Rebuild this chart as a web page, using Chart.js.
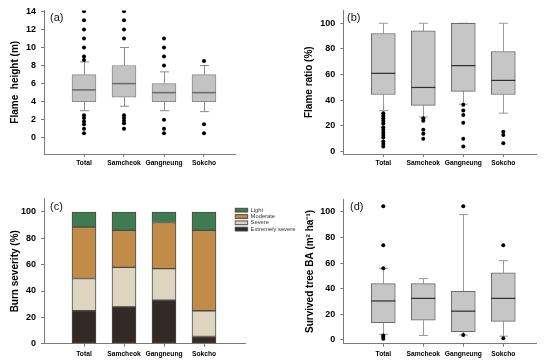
<!DOCTYPE html>
<html><head><meta charset="utf-8">
<script src="https://cdn.jsdelivr.net/npm/chart.js@4/dist/chart.umd.min.js"></script>
<style>
html,body{margin:0;padding:0;background:#fff;}
body{width:550px;height:362px;position:relative;overflow:hidden;font-family:"Liberation Sans",Arial,sans-serif;}
canvas{position:absolute;}
.lab{position:absolute;font-size:11px;line-height:12px;color:#111;white-space:nowrap;}
</style></head>
<body>
<canvas id="ca" width="275" height="181" style="left:0;top:0"></canvas>
<canvas id="cb" width="275" height="181" style="left:275px;top:0"></canvas>
<canvas id="cd" width="275" height="181" style="left:275px;top:181px"></canvas>
<canvas id="cc" width="300" height="181" style="left:0;top:181px"></canvas>
<div class="lab" style="left:50px;top:10.7px">(a)</div>
<div class="lab" style="left:347px;top:10.7px">(b)</div>
<div class="lab" style="left:50px;top:200px">(c)</div>
<div class="lab" style="left:350px;top:200px">(d)</div>
<script>
const categories = ['Total', 'Samcheok', 'Gangneung', 'Sokcho'];

// (a) Flame height (m)
const heightTicks = [0, 2, 4, 6, 8, 10, 12, 14];
const heightQ1 = [4, 4.5, 4, 4];
const heightMedian = [5.3, 6, 5, 5];
const heightQ3 = [7, 8, 6, 7];
const heightLow = [3, 3.5, 3, 2.9];
const heightHigh = [8.4, 10, 7.3, 8];
const heightOutliers = [
  [14, 13, 12, 11, 10, 9, 8.6, 2.5, 2.2, 1.8, 1.5, 1, 0.5],
  [14, 13, 12, 11, 2.5, 2.2, 1.9, 1.6, 1],
  [11, 10, 9, 8, 2, 1, 0.5],
  [8.5, 1.5, 0.5]
];

// (b) Flame ratio (%)
const ratioTicks = [0, 20, 40, 60, 80, 100];
const ratioQ1 = [44.5, 36, 47, 44.5];
const ratioMedian = [61, 50, 67, 55.5];
const ratioQ3 = [92, 94, 100, 78];
const ratioLow = [32, 27, 37, 30];
const ratioHigh = [100, 100, 100, 100];
const ratioOutliers = [
  [30, 28, 26, 24, 22, 19, 17, 15, 13, 11, 8, 6, 4],
  [26, 24, 17, 14, 10],
  [36.5, 32, 28.5, 22.5, 10, 4],
  [15.5, 13, 6.5]
];

// (c) Burn severity (%)
const severityTicks = [0, 20, 40, 60, 80, 100];
const severityExtreme = [25, 28, 33, 5.5];
const severitySevere = [24.5, 30, 24, 19.5];
const severityModerate = [39, 28, 35, 61];
const severityLight = [11.5, 14, 8, 14];

// (d) Survived tree BA (m2 ha-1)
const baTicks = [0, 20, 40, 60, 80, 100];
const baQ1 = [13.5, 15.5, 6.5, 14.5];
const baMedian = [30.5, 32.5, 22.5, 32.5];
const baQ3 = [44, 44, 38, 52.5];
const baLow = [4.4, 3.5, 3.9, 3];
const baHigh = [56, 48, 98, 62];
const baOutliers = [
  [104.5, 74, 56, 3.5, 2.3, 1],
  [],
  [104.5, 3.9],
  [74, 1.3]
];

Chart.defaults.font.family = '"Liberation Sans", Arial, sans-serif';
Chart.defaults.animation = false;
Chart.defaults.events = [];

const AXIS = '#7a7a7a';

function axes(o) {
  return {
    x: {
      type: 'linear', min: -1, max: o.xMax, stacked: !!o.stacked, offset: false,
      afterBuildTicks: s => { s.ticks = categories.map((c, i) => ({ value: i })); },
      afterFit: s => { s.height = o.xH; },
      ticks: { callback: v => categories[v], font: { size: 6.7, weight: 'bold' }, color: '#000', padding: o.xPad, maxRotation: 0, autoSkip: false },
      grid: { display: true, offset: false, drawOnChartArea: false, drawTicks: true, tickLength: 3, color: AXIS },
      border: { display: true, color: AXIS, width: 1 }
    },
    y: {
      type: 'linear', min: o.yMin, max: o.yMax, stacked: !!o.stacked, offset: false,
      afterBuildTicks: s => { s.ticks = o.yTicks.map(v => ({ value: v })); },
      afterFit: s => { s.width = o.yW; },
      ticks: { font: { size: 9, weight: 'bold' }, color: '#000', padding: 5 },
      grid: { display: true, drawOnChartArea: false, drawTicks: true, tickLength: 3, color: AXIS },
      border: { display: true, color: AXIS, width: 1 },
      title: { display: true, text: o.title, font: { size: 10, weight: 'bold' }, color: '#000', padding: { top: o.titlePad, bottom: 0 } }
    }
  };
}

function boxChart(id, o) {
  const plugin = {
    id: 'boxLines',
    beforeDatasetsDraw(chart) {
      const xs = chart.scales.x, ys = chart.scales.y, ctx = chart.ctx;
      ctx.save();
      ctx.strokeStyle = o.whisker; ctx.lineWidth = 1;
      o.q1.forEach((q1, i) => {
        const px = Math.round(xs.getPixelForValue(i)) + 0.5;
        const h = o.cap / 2;
        const yl = ys.getPixelForValue(o.low[i]), y1 = ys.getPixelForValue(q1);
        const y3 = ys.getPixelForValue(o.q3[i]), yh = ys.getPixelForValue(o.high[i]);
        ctx.beginPath();
        ctx.moveTo(px, y1); ctx.lineTo(px, yl);
        ctx.moveTo(px - h, yl); ctx.lineTo(px + h, yl);
        ctx.moveTo(px, y3); ctx.lineTo(px, yh);
        ctx.moveTo(px - h, yh); ctx.lineTo(px + h, yh);
        ctx.stroke();
      });
      ctx.restore();
    },
    afterDatasetDraw(chart, args) {
      if (args.meta.type !== 'bar') return;
      const xs = chart.scales.x, ys = chart.scales.y, ctx = chart.ctx;
      ctx.save();
      ctx.strokeStyle = o.medianColor; ctx.lineWidth = o.medianWidth;
      o.median.forEach((m, i) => {
        const px = xs.getPixelForValue(i), py = ys.getPixelForValue(m);
        ctx.beginPath();
        ctx.moveTo(px - 12, py); ctx.lineTo(px + 12, py);
        ctx.stroke();
      });
      ctx.restore();
    }
  };
  return new Chart(document.getElementById(id), {
    type: 'bar',
    data: {
      datasets: [
        {
          type: 'scatter', order: 0,
          data: o.outliers.flatMap((arr, i) => arr.map(v => ({ x: i, y: v }))),
          pointRadius: 2, pointBackgroundColor: '#000', pointBorderWidth: 0
        },
        {
          type: 'bar', order: 1,
          data: categories.map((c, i) => ({ x: i, y: [o.q1[i], o.q3[i]] })),
          backgroundColor: o.fill, borderColor: o.border, borderWidth: 1,
          borderSkipped: false, barThickness: 24
        }
      ]
    },
    options: {
      responsive: false,
      layout: { padding: { left: 0, right: o.padR, top: o.padT, bottom: 0 } },
      plugins: { legend: { display: false }, tooltip: { enabled: false } },
      scales: axes(o)
    },
    plugins: [plugin]
  });
}

boxChart('ca', {
  q1: heightQ1, median: heightMedian, q3: heightQ3, low: heightLow, high: heightHigh, outliers: heightOutliers,
  yTicks: heightTicks, yMin: -1.8, yMax: 14.1, xMax: 3.775, yW: 44, xH: 26.9, padT: 9.1, padR: 40, xPad: 2,
  title: 'Flame  height (m)', titlePad: 9,
  fill: '#c3c3c3', border: '#8a8a8a', whisker: '#8a8a8a', medianColor: '#6a6a6a', medianWidth: 1.5, cap: 9
});

boxChart('cb', {
  q1: ratioQ1, median: ratioMedian, q3: ratioQ3, low: ratioLow, high: ratioHigh, outliers: ratioOutliers,
  yTicks: ratioTicks, yMin: -1.8, yMax: 110, xMax: 3.835, yW: 68.3, xH: 27, padT: 10, padR: 13.3, xPad: 2,
  title: 'Flame ratio (%)', titlePad: 28.3,
  fill: '#c6c6c6', border: '#6a6a6a', whisker: '#9a9a9a', medianColor: '#2e2e2e', medianWidth: 1.2, cap: 9
});

boxChart('cd', {
  q1: baQ1, median: baMedian, q3: baQ3, low: baLow, high: baHigh, outliers: baOutliers,
  yTicks: baTicks, yMin: -2.9, yMax: 110, xMax: 3.835, yW: 68.3, xH: 18.3, padT: 18.2, padR: 13.3, xPad: 3,
  title: 'Survived tree BA (m² ha⁻¹)', titlePad: 29,
  fill: '#c6c6c6', border: '#6a6a6a', whisker: '#9a9a9a', medianColor: '#2e2e2e', medianWidth: 1.2, cap: 9
});

// (c) stacked bars
const legendPlace = {
  id: 'legendPlace',
  afterLayout(chart) {
    const lg = chart.legend;
    if (!lg) return;
    lg.left = 234.5; lg.top = 25.8; lg.width = 70; lg.height = 30;
    lg.right = lg.left + lg.width; lg.bottom = lg.top + lg.height;
  }
};
const sevStyle = (label, values, color) => ({
  label, data: categories.map((c, i) => ({ x: i, y: values[i] })),
  backgroundColor: color, borderColor: '#4a4a4a', borderWidth: 1, borderSkipped: false, barThickness: 24
});
new Chart(document.getElementById('cc'), {
  type: 'bar',
  data: {
    datasets: [
      sevStyle('Extremely severe', severityExtreme, '#332a25'),
      sevStyle('Severe', severitySevere, '#ddd5bf'),
      sevStyle('Moderate', severityModerate, '#c08c47'),
      sevStyle('Light', severityLight, '#3f7b50')
    ]
  },
  options: {
    responsive: false,
    layout: { padding: { left: 0, right: 55, top: 17.8, bottom: 0 } },
    plugins: {
      tooltip: { enabled: false },
      legend: {
        display: true, position: 'chartArea', align: 'start', reverse: true,
        labels: { boxWidth: 12.7, boxHeight: 3.8, padding: 0.5, font: { size: 5.8 }, color: '#333' }
      }
    },
    scales: axes({
      yTicks: severityTicks, yMin: 0, yMax: 110, xMax: 4.025, yW: 44, xH: 18.3, xPad: 3,
      title: 'Burn severity (%)', titlePad: 9, stacked: true
    })
  },
  plugins: [legendPlace]
});
</script>
</body></html>
